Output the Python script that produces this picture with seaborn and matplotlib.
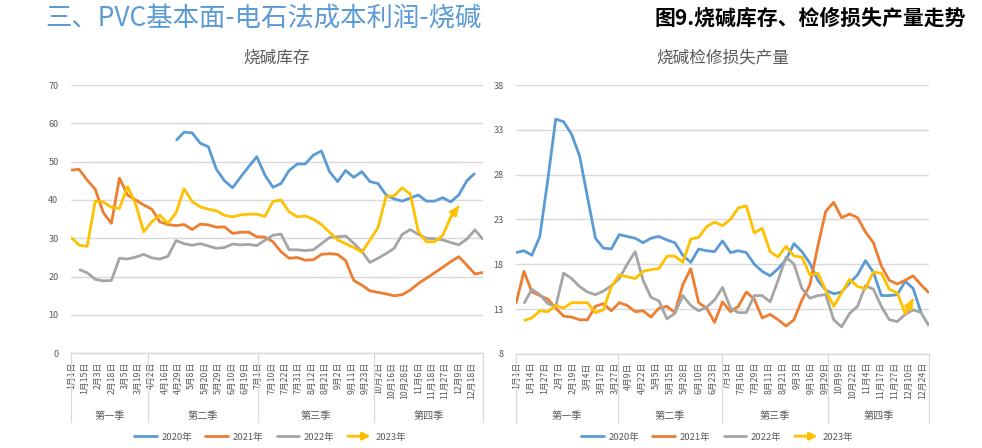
import numpy as np
import pandas as pd
import seaborn as sns
import matplotlib.pyplot as plt
from matplotlib.lines import Line2D
from matplotlib.patches import FancyArrowPatch
from matplotlib.legend_handler import HandlerBase
from matplotlib.transforms import blended_transform_factory

sns.set_style('white')
plt.rcParams['font.family'] = ['Noto Sans CJK SC', 'DejaVu Sans']

nan = np.nan

# ---- category labels ----
left_dates = ['1月1日', '1月15日', '2月3日', '2月18日', '3月5日', '3月19日',
              '4月2日', '4月16日', '4月29日', '5月8日', '5月20日', '5月29日', '6月10日', '6月19日',
              '7月1日', '7月10日', '7月22日', '7月31日', '8月12日', '8月21日', '9月2日', '9月11日', '9月23日',
              '10月2日', '10月16日', '10月28日', '11月6日', '11月18日', '11月27日', '12月9日', '12月18日']
right_dates = ['1月1日', '1月14日', '1月27日', '2月7日', '2月19日', '3月4日', '3月17日', '3月27日',
               '4月9日', '4月22日', '5月5日', '5月15日', '5月28日', '6月10日', '6月23日',
               '7月3日', '7月16日', '7月29日', '8月11日', '8月21日', '9月3日', '9月16日', '9月29日',
               '10月9日', '10月22日', '11月4日', '11月17日', '11月27日', '12月10日', '12月24日']
quarters = ['第一季', '第二季', '第三季', '第四季']
years = ['2020年', '2021年', '2022年', '2023年']

# ---- 烧碱库存 (weekly) ----
stock_2020 = [nan] * 13 + [55.5, 57.7, 57.5, 54.8, 53.9, 48.0, 45.0, 43.2, 46.0, 48.7,
                           51.3, 46.5, 43.3, 44.3, 47.7, 49.4, 49.4, 51.7, 52.8, 47.4,
                           44.8, 47.7, 45.9, 47.4, 44.8, 44.3, 41.3, 40.3, 39.7, 40.5,
                           41.3, 39.7, 39.7, 40.6, 39.5, 41.3, 45.0, 47.0] + [nan]
stock_2021 = [47.8, 48.0, 45.2, 42.8, 36.7, 33.9, 45.7, 41.3, 40.0, 38.7,
              37.6, 34.3, 33.6, 33.3, 33.6, 32.3, 33.7, 33.5, 32.9, 33.0,
              31.3, 31.6, 31.6, 30.4, 30.3, 29.1, 26.5, 24.8, 25.0, 24.3,
              24.4, 25.8, 26.0, 25.8, 24.2, 19.0, 17.8, 16.3, 15.9, 15.5,
              15.0, 15.3, 16.5, 18.2, 19.6, 21.0, 22.4, 23.9, 25.2, 23.0,
              20.7, 21.1]
stock_2022 = [nan, 21.9, 21.0, 19.3, 18.9, 19.0, 24.8, 24.6, 25.1, 25.8,
              24.9, 24.6, 25.3, 29.4, 28.6, 28.2, 28.6, 28.0, 27.4, 27.6,
              28.5, 28.3, 28.4, 28.1, 29.5, 30.8, 31.1, 27.0, 27.0, 26.8,
              27.0, 28.6, 30.2, 30.4, 30.6, 28.7, 26.6, 23.7, 24.8, 26.0,
              27.4, 31.0, 32.3, 31.0, 30.0, 29.9, 29.6, 28.9, 28.3, 29.8,
              32.2, 29.7]
stock_2023 = [30.3, 28.2, 27.9, 39.7, 39.5, 38.1, 37.8, 43.5, 39.0, 31.7,
              34.3, 36.0, 33.9, 36.7, 42.9, 39.6, 38.2, 37.6, 37.2, 36.0,
              35.6, 36.1, 36.3, 36.3, 35.7, 39.6, 40.0, 36.9, 35.6, 35.8,
              35.0, 33.6, 31.6, 29.6, 28.6, 27.6, 26.4, 29.5, 32.8, 40.9,
              41.1, 43.2, 41.5, 31.7, 29.1, 29.1, 30.7, 35.5, 38.4] + [nan] * 3

# ---- 烧碱检修损失产量 (weekly) ----
loss_2020 = [19.3, 19.5, 19.0, 21.1, 27.4, 34.2, 33.9, 32.5, 30.1, 25.5,
             20.9, 19.8, 19.7, 21.3, 21.1, 20.9, 20.4, 20.9, 21.1, 20.7,
             20.4, 19.0, 18.2, 19.7, 19.5, 19.4, 20.6, 19.3, 19.5, 19.3,
             18.0, 17.2, 16.7, 17.5, 18.5, 20.3, 19.4, 18.1, 16.2, 15.1,
             14.7, 14.9, 15.9, 16.8, 18.4, 17.1, 14.5, 14.5, 14.6, 16.1,
             15.3, 12.6, nan]
loss_2021 = [13.6, 17.2, 14.9, 14.5, 14.1, 13.1, 12.2, 12.1, 11.8, 11.8,
             13.3, 13.6, 12.8, 13.7, 13.4, 12.7, 12.8, 12.1, 13.1, 13.3,
             12.6, 15.7, 17.5, 13.7, 13.1, 11.5, 13.8, 12.7, 13.3, 14.9,
             14.1, 12.0, 12.4, 11.8, 11.1, 11.8, 14.0, 15.7, 20.0, 23.9,
             24.9, 23.2, 23.6, 23.2, 21.6, 20.4, 17.8, 16.2, 15.8, 16.2,
             16.7, 15.7, 14.8]
loss_2022 = [nan, 13.6, 15.2, 14.6, 13.6, 13.3, 17.0, 16.4, 15.5, 14.9,
             14.6, 15.0, 15.6, 16.4, 18.0, 19.4, 16.2, 14.3, 13.9, 11.9,
             12.5, 14.5, 13.4, 12.8, 13.2, 14.0, 15.4, 13.1, 12.6, 12.6,
             14.5, 14.5, 13.8, 16.2, 18.8, 18.0, 15.3, 14.2, 14.5, 14.6,
             11.8, 11.0, 12.5, 13.3, 15.6, 15.2, 13.3, 11.8, 11.6, 12.4,
             12.9, 12.6, 11.1]
loss_2023 = [nan, 11.7, 12.0, 12.8, 12.7, 13.4, 13.1, 13.7, 13.7, 13.7,
             12.6, 12.9, 15.5, 16.8, 16.6, 16.4, 17.2, 17.4, 17.5, 18.9,
             18.9, 18.2, 20.8, 21.0, 22.2, 22.7, 22.3, 23.0, 24.3, 24.5,
             21.5, 22.0, 19.4, 18.8, 20.0, 18.9, 18.8, 16.8, 17.0, 15.1,
             13.3, 14.8, 16.3, 15.5, 15.3, 17.1, 17.0, 15.2, 14.8, 12.5,
             14.1, nan, nan]

colors = ['#5B9BD5', '#ED7D31', '#A5A5A5', '#FFC000']
text_gray = '#595959'
grid_gray = '#D9D9D9'


def long_frame(series):
    rows = []
    for year, vals in zip(years, series):
        for i, v in enumerate(vals):
            if not np.isnan(v):
                rows.append({'idx': i, 'value': v, 'year': year})
    return pd.DataFrame(rows)


class HandlerArrow(HandlerBase):
    def create_artists(self, legend, orig_handle, xdescent, ydescent, width, height, fontsize, trans):
        y = height / 2 - ydescent
        arrow = FancyArrowPatch((-xdescent, y), (-xdescent + width, y), arrowstyle='-|>',
                                mutation_scale=11, color=orig_handle.get_color(), lw=2,
                                shrinkA=0, shrinkB=0)
        arrow.set_transform(trans)
        return [arrow]


def draw_panel(ax, series, title, ymin, ymax, ystep, dates, label_px, boundary_px, axis_px):
    n = len(series[0])
    df = long_frame(series)
    sns.lineplot(data=df, x='idx', y='value', hue='year', palette=colors, hue_order=years,
                 estimator=None, sort=False, lw=2, legend=False, ax=ax)
    for line in ax.lines:
        line.set_solid_joinstyle('round')
        line.set_solid_capstyle('butt')

    # arrow head at the end of the 2023 line
    last = [i for i, v in enumerate(series[3]) if not np.isnan(v)]
    a, b = last[-2], last[-1]
    ax.annotate('', xy=(b, series[3][b]), xytext=(a, series[3][a]),
                arrowprops=dict(arrowstyle='-|>', color=colors[3], lw=2,
                                mutation_scale=12, shrinkA=0, shrinkB=0))

    ax.set_xlim(0, n - 1)
    ax.set_ylim(ymin, ymax)
    ax.set_yticks(np.arange(ymin, ymax + 0.1, ystep))
    ax.yaxis.grid(True, color=grid_gray, lw=1)
    ax.xaxis.grid(False)
    for s in ['top', 'right', 'left']:
        ax.spines[s].set_visible(False)
    ax.spines['bottom'].set_color(grid_gray)
    ax.spines['bottom'].set_linewidth(1)

    x0, x1 = axis_px
    to_data = lambda px: (px - x0) / (x1 - x0) * (n - 1)
    ax.set_xticks([to_data(p) for p in label_px])
    ax.set_xticklabels(dates, rotation=90, fontsize=6.3, color=text_gray)
    ax.tick_params(axis='x', length=0, pad=6)
    ax.tick_params(axis='y', length=0, pad=9, labelsize=6.5, labelcolor=text_gray)
    ax.set_xlabel('')
    ax.set_ylabel('')
    ax.set_title(title, fontsize=12, color=text_gray, pad=16)

    trans = blended_transform_factory(ax.transData, ax.transAxes)
    edges = [x0] + boundary_px + [x1]
    for p in edges:
        ax.plot([to_data(p)] * 2, [0, -0.257], transform=trans, color=grid_gray,
                lw=0.9, clip_on=False)
    for k, q in enumerate(quarters):
        c = to_data((edges[k] + edges[k + 1]) / 2)
        ax.text(c, -0.232, q, transform=trans, ha='center', va='center',
                fontsize=7.3, color=text_gray)


fig = plt.figure(figsize=(9.82, 4.48), dpi=100)
W, H = 982, 448
ax1 = fig.add_axes([71 / W, 1 - 353.3 / H, 412 / W, 268.3 / H])
ax2 = fig.add_axes([516 / W, 1 - 353.8 / H, 413 / W, 268.8 / H])

draw_panel(ax1, [stock_2020, stock_2021, stock_2022, stock_2023], '烧碱库存', 0, 70, 10,
           left_dates, [71.7 + 13.33 * k for k in range(len(left_dates))],
           [148, 257.7, 374], (71, 483))
draw_panel(ax2, [loss_2020, loss_2021, loss_2022, loss_2023], '烧碱检修损失产量', 8, 38, 5,
           right_dates, [516.7 + 14.0 * k for k in range(len(right_dates))],
           [618, 721.7, 827.7], (516, 929))

# legends
for cx in [270, 717]:
    handles = [Line2D([], [], color=c, lw=2) for c in colors]
    fig.legend(handles, years, loc='center', bbox_to_anchor=(cx / W, 1 - 437 / H),
               ncol=4, frameon=False, fontsize=6.8, handlelength=2.4,
               handletextpad=0.5, columnspacing=1.4, labelcolor=text_gray,
               handler_map={handles[3]: HandlerArrow()})

fig.text(45 / W, 1 - 18 / H, '三、PVC基本面-电石法成本利润-烧碱', fontsize=19,
         color='#5B9BD5', ha='left', va='center')
fig.text(966 / W, 1 - 18 / H, '图9.烧碱库存、检修损失产量走势', fontsize=15,
         fontweight='bold', color='black', ha='right', va='center')

fig.savefig('out.png', dpi=100)
